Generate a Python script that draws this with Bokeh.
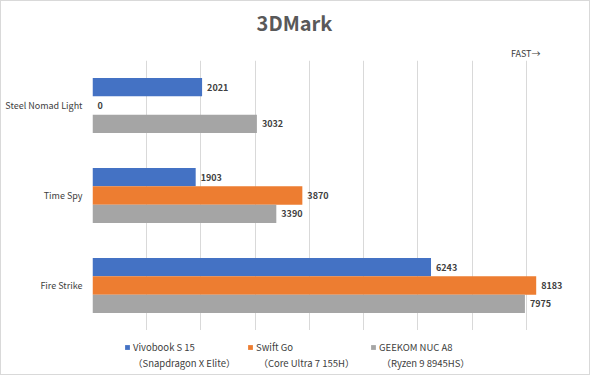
from bokeh.plotting import figure
from bokeh.layouts import column
from bokeh.models import (FactorRange, Range1d, FixedTicker, ColumnDataSource, LabelSet,
                          Label, Legend, LegendItem)
from bokeh.transform import dodge
from bokeh.core.properties import value
from bokeh.embed import file_html
from bokeh.resources import INLINE

title_text = "3DMark"
fast_text = "FAST→"
categories = ["Steel Nomad Light", "Time Spy", "Fire Strike"]
series_line1 = ["Vivobook S 15", "Swift Go", "GEEKOM NUC A8"]
series_line2 = ["（Snapdragon X Elite）", "（Core Ultra 7 155H）", "（Ryzen 9 8945HS）"]
vivobook = [2021, 1903, 6243]
swift_go = [0, 3870, 8183]
geekom = [3032, 3390, 7975]
x_ticks = [0, 1000, 2000, 3000, 4000, 5000, 6000, 7000, 8000, 9000]
colors = ["#4472C4", "#ED7D31", "#A5A5A5"]

FONT = "Noto Sans CJK JP"
TXT = "#404040"

x_range = Range1d(x_ticks[0], x_ticks[-1])

# title strip
ts = figure(width=588, height=59, x_range=x_range, y_range=Range1d(0, 59),
            output_backend="svg", toolbar_location=None,
            x_axis_location=None, y_axis_location=None,
            min_border_left=0, min_border_right=0, min_border_top=0, min_border_bottom=0)
ts.title.visible = False
ts.xgrid.visible = False
ts.ygrid.visible = False
ts.outline_line_color = None
ts.add_layout(Label(x=x_ticks[0], y=38, x_offset=202, text=title_text,
                    text_align="center", text_baseline="middle",
                    text_font=FONT, text_font_size="20px", text_font_style="bold",
                    text_color="#595959"))
ts.add_layout(Label(x=x_ticks[-1], y=7, x_offset=-40, text=fast_text,
                    text_align="right", text_baseline="middle",
                    text_font=FONT, text_font_size="9px", text_color=TXT))

# main plot
p = figure(width=588, height=270,
           y_range=FactorRange(factors=categories[::-1]),
           x_range=x_range,
           output_backend="svg", toolbar_location=None,
           min_border_left=91, min_border_right=9, min_border_top=0, min_border_bottom=0)
p.title.visible = False

bar_h = 0.2037
offsets = [bar_h, 0.0, -bar_h]
series = [vivobook, swift_go, geekom]
for vals, off, col in zip(series, offsets, colors):
    src = ColumnDataSource(dict(cat=categories, val=vals, lab=[str(v) for v in vals]))
    p.hbar(y=dodge("cat", off, range=p.y_range), right="val", left=0, height=bar_h,
           source=src, fill_color=col, line_color=None)
    p.add_layout(LabelSet(x="val", y=dodge("cat", off, range=p.y_range), text="lab", source=src,
                          x_offset=5, text_baseline="middle", text_align="left",
                          text_font=value(FONT), text_font_size="9px", text_font_style="bold",
                          text_color=TXT))

p.xaxis.visible = False
p.xaxis.ticker = FixedTicker(ticks=x_ticks)
p.xgrid.ticker = FixedTicker(ticks=x_ticks)
p.xgrid.grid_line_color = "#d9d9d9"
p.ygrid.grid_line_color = None
p.outline_line_color = None

p.yaxis.axis_line_color = None
p.yaxis.major_tick_line_color = None
p.yaxis.minor_tick_line_color = None
p.yaxis.major_tick_out = 0
p.yaxis.major_tick_in = 0
p.yaxis.minor_tick_out = 0
p.yaxis.major_label_standoff = 10
p.yaxis.major_label_text_font = FONT
p.yaxis.major_label_text_font_size = "9px"
p.yaxis.major_label_text_color = TXT

# legend strip
lg = figure(width=588, height=44, x_range=Range1d(0, 1), y_range=Range1d(0, 1),
            output_backend="svg", toolbar_location=None,
            x_axis_location=None, y_axis_location=None,
            min_border_left=0, min_border_right=0, min_border_top=0, min_border_bottom=0)
lg.title.visible = False
lg.xgrid.visible = False
lg.ygrid.visible = False
lg.outline_line_color = None
nan = float("nan")
swatches = [lg.rect(x=[nan], y=[nan], width=1, height=1, fill_color=col, line_color=None)
            for col in colors]
blank = lg.rect(x=[nan], y=[nan], width=1, height=1, fill_alpha=0, line_alpha=0)

common = dict(orientation="horizontal", glyph_width=6, glyph_height=6, label_standoff=3,
              spacing=14, label_width=100, label_height=14,
              label_text_font=FONT, label_text_font_size="9.5px", label_text_color=TXT,
              border_line_color=None, background_fill_alpha=0, padding=0, margin=0)
legend1 = Legend(items=[LegendItem(label=n, renderers=[r]) for n, r in zip(series_line1, swatches)],
                 location=(32, 20), **common)
legend2 = Legend(items=[LegendItem(label=n, renderers=[blank]) for n in series_line2],
                 location=(32, 4), **common)
lg.add_layout(legend1)
lg.add_layout(legend2)

layout = column(ts, p, lg, spacing=0, styles={"border": "1px solid #d9d9d9"})
open("out.html", "w").write(file_html(layout, INLINE))
